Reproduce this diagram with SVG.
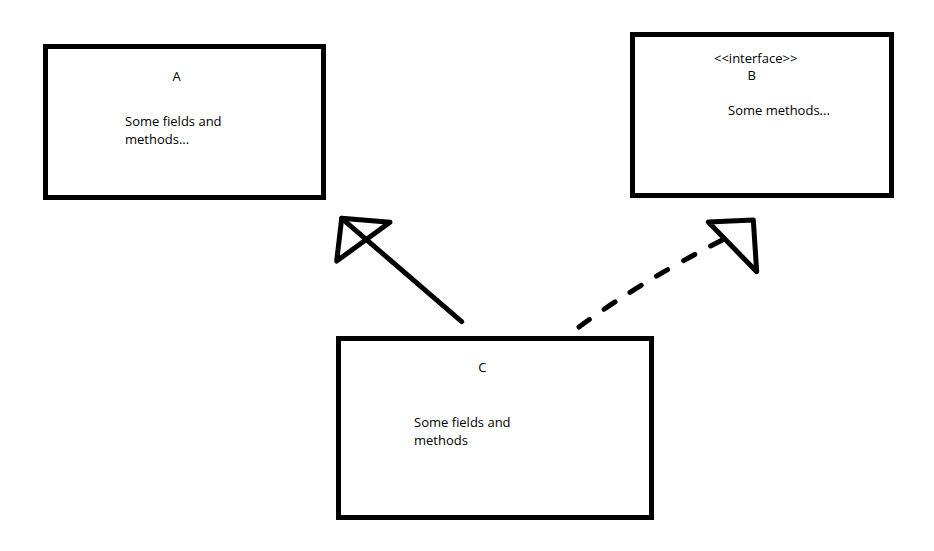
<svg xmlns="http://www.w3.org/2000/svg" width="934" height="551" viewBox="0 0 934 551">
<style>
.box{fill:#fff;stroke:#000;stroke-width:5}
.t{font-family:"Open Sans","Noto Sans",sans-serif;font-size:13px;fill:#000}
.ln{fill:none;stroke:#000;stroke-width:5;stroke-linecap:round;stroke-linejoin:round}
</style>
<rect width="934" height="551" fill="#fff"/>
<g id="A">
<rect class="box" x="45.5" y="46.5" width="278" height="151"/>
<text class="t" x="172.5" y="81">A</text>
<text class="t" x="125" y="126">Some fields and</text>
<text class="t" x="125" y="144.3">methods...</text>
</g>
<g id="B">
<rect class="box" x="632.5" y="34.5" width="259" height="161"/>
<text class="t" x="714" y="63.3">&lt;&lt;interface&gt;&gt;</text>
<text class="t" x="747.5" y="80">B</text>
<text class="t" x="728" y="115">Some methods...</text>
</g>
<g id="C">
<rect class="box" x="338.5" y="338.5" width="313" height="179"/>
<text class="t" x="478.3" y="372.3">C</text>
<text class="t" x="414" y="427.3">Some fields and</text>
<text class="t" x="414" y="445">methods</text>
</g>
<g id="connectors">
<path class="ln" d="M461.7,321.7 L341.7,218.3"/>
<path class="ln" d="M341.7,218.3 L390,222.3 L336.7,261 Z"/>
<path class="ln" d="M579,327 Q640,282 727,237.5" stroke-dasharray="13 18"/>
<path class="ln" d="M708.3,222 L753.3,220 L756.7,271.7 Z"/>
</g>
</svg>
